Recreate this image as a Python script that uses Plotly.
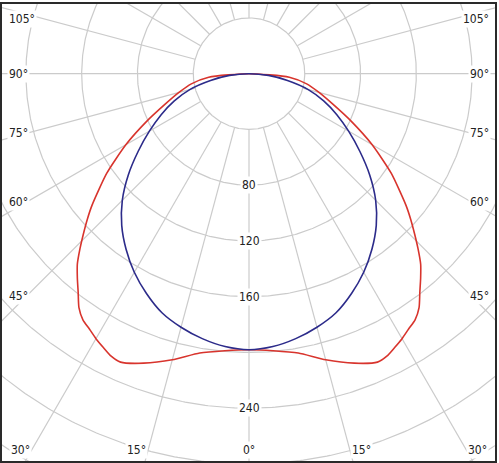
import numpy as np
import plotly.graph_objects as go

# ---------------- data ----------------
# Half-plane intensity values (cd/klm), angle measured from nadir (0°); curves are symmetric
red_angles = [0, 5, 10, 15, 20, 24, 26, 28, 30, 32, 34, 36, 38, 40, 42, 44, 46, 48, 50,
              55, 60, 65, 70, 75, 80, 85, 90]
red_values = [198, 199.5, 203.5, 212.5, 221, 226.5, 225.5, 222.5, 219.5, 216, 213, 207.5,
              199, 191.5, 184, 174.5, 165, 156, 147, 124.5, 102, 81, 64, 52, 42, 29, 0]

blue_angles = [0, 5, 10, 15, 20, 25, 30, 35, 40, 45, 50, 55, 60, 65, 70, 75, 80, 85, 90]
blue_values = [198, 196.5, 193, 188.3, 182.5, 174, 164.5, 153.7, 142, 128.5, 113, 97,
               82.5, 69.5, 57, 44, 28, 14, 0]

ring_values = [40, 80, 120, 160, 200, 240, 280, 320, 360, 400, 440, 480]
ring_labels = ["80", "120", "160", "240"]
ray_angles = list(range(0, 360, 15))
angle_labels = [0, 15, 30, 45, 60, 75, 90, 105]

RED = "#d8342d"
BLUE = "#2c2b8a"
GRID = "#cbcbcb"
FONT = "DejaVu Sans Condensed, DejaVu Sans"
FSIZE = 12

# ---------------- geometry of the canvas ----------------
W, H = 499, 463
SCALE = 1.4           # pixels per cd
CX, CY = 250, 72      # pixel position of the polar origin
L, R, T, B = 2, 2, 2, 2


def px_x(px):
    return (px - CX) / SCALE


def px_y(py):
    return (CY - py) / SCALE


def polar_xy(angles_deg, values):
    a = np.radians(np.asarray(angles_deg, dtype=float))
    v = np.asarray(values, dtype=float)
    return v * np.sin(a), -v * np.cos(a)


def mirror(angles, values):
    full_a = [-a for a in reversed(angles[1:])] + list(angles)
    full_v = list(reversed(values[1:])) + list(values)
    return full_a, full_v


fig = go.Figure()

# rings
theta = np.linspace(0, 360, 721)
for rv in ring_values:
    x, y = polar_xy(theta, [rv] * len(theta))
    fig.add_trace(go.Scatter(x=x, y=y, mode="lines", line=dict(color=GRID, width=1.2),
                             hoverinfo="skip", showlegend=False))

# rays (from the innermost ring outwards)
for ang in ray_angles:
    x, y = polar_xy([ang, ang], [ring_values[0], ring_values[-1] + 100])
    fig.add_trace(go.Scatter(x=x, y=y, mode="lines", line=dict(color=GRID, width=1.2),
                             hoverinfo="skip", showlegend=False))

# curves
ra, rvv = mirror(red_angles, red_values)
x, y = polar_xy(ra, rvv)
fig.add_trace(go.Scatter(x=x, y=y, mode="lines",
                         line=dict(color=RED, width=1.6, shape="spline", smoothing=0.6),
                         name="C90-C270", showlegend=False))
ba, bvv = mirror(blue_angles, blue_values)
x, y = polar_xy(ba, bvv)
fig.add_trace(go.Scatter(x=x, y=y, mode="lines",
                         line=dict(color=BLUE, width=1.6, shape="spline", smoothing=0.7),
                         name="C0-C180", showlegend=False))

annotations = []
font = dict(family=FONT, size=FSIZE, color="#222")
# ring value labels along the 0° axis
for lab in ring_labels:
    annotations.append(dict(x=0, y=-float(lab), text=lab, showarrow=False, font=font,
                            bgcolor="white", borderpad=1, xanchor="center", yanchor="middle"))

# angle labels around the frame
side_dx = 223       # px from centre where side labels are read on the ray
bottom_py = 450     # px row of bottom labels
top_py_min = 17
for ang in angle_labels:
    a = np.radians(ang)
    s, c = np.sin(a), np.cos(a)
    text = f"{ang}°"
    if c > 1e-6 and (bottom_py - CY) * np.tan(a) <= side_dx:
        dx = (bottom_py - CY) * np.tan(a)
        if ang == 0:
            annotations.append(dict(x=0, y=px_y(bottom_py), text=text, showarrow=False,
                                    font=font, bgcolor="white", borderpad=1,
                                    xanchor="center", yanchor="middle"))
        else:
            for sign in (-1, 1):
                annotations.append(dict(x=px_x(CX + sign * dx), y=px_y(bottom_py), text=text,
                                        showarrow=False, font=font,
                                        bgcolor="white", borderpad=1,
                                        xanchor="right" if sign < 0 else "left",
                                        yanchor="middle"))
    else:
        py = CY + side_dx * c / s
        py = max(py, top_py_min)
        for sign in (-1, 1):
            annotations.append(dict(x=px_x(7) if sign < 0 else px_x(W - 6), y=px_y(py),
                                    text=text, showarrow=False, font=font,
                                    bgcolor="white", borderpad=1,
                                    xanchor="left" if sign < 0 else "right",
                                    yanchor="middle"))

fig.update_layout(
    width=W, height=H,
    margin=dict(l=L, r=R, t=T, b=B),
    paper_bgcolor="white", plot_bgcolor="white",
    annotations=annotations,
    showlegend=False,
)
fig.update_xaxes(range=[px_x(L), px_x(W - R)], showgrid=False, zeroline=False,
                 showticklabels=False, ticks="", showline=True, mirror=True,
                 linecolor="#2a2a2a", linewidth=1.5)
fig.update_yaxes(range=[px_y(H - B), px_y(T)], showgrid=False, zeroline=False,
                 showticklabels=False, ticks="", showline=True, mirror=True,
                 linecolor="#2a2a2a", linewidth=1.5)

fig.write_html("out.html", config={"displayModeBar": False},
               post_script="document.body.style.margin='0px';document.body.style.overflow='hidden';")
